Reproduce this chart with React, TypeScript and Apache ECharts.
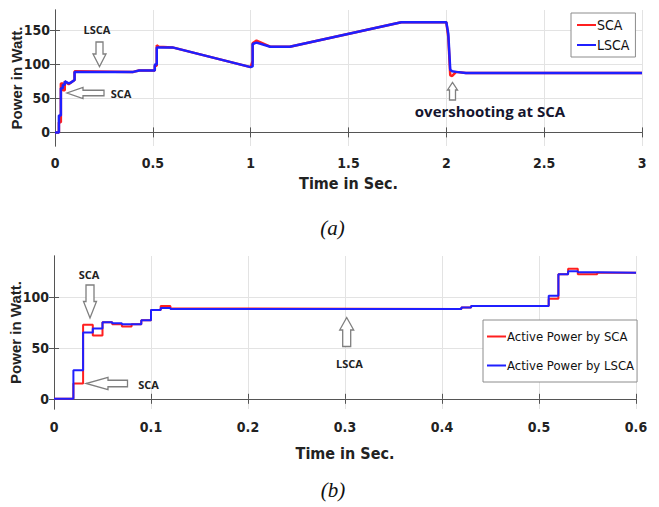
import React, { useEffect, useRef } from "react";
import * as echarts from "echarts";

// ---------- Data ----------
// (a) 0 – 3 s
const TOP_TIME = [0, 0.02, 0.02, 0.03, 0.03, 0.04, 0.04, 0.05, 0.05, 0.07, 0.08, 0.1, 0.1, 0.4, 0.43, 0.51, 0.51, 0.52, 0.52, 0.53, 0.6, 1.0, 1.01, 1.01, 1.03, 1.1, 1.2, 1.77, 2.0, 2.01, 2.02, 2.03, 2.05, 2.1, 3.0];
const TOP_SCA = [0, 0, 15, 15, 72, 72, 62, 62, 75, 71, 73, 77, 90, 89, 91, 91, 98, 98, 128, 126, 125, 96, 105, 131, 135, 126, 126, 162, 162, 140, 84, 83, 89, 87.5, 87.5];
const TOP_LSCA = [0, 0, 25, 25, 65, 65, 70, 70, 75, 72, 73, 77, 89, 89, 91, 91, 100, 100, 125, 125, 125, 96, 97, 130, 132, 126, 126, 162, 162, 145, 92, 90, 89, 87.5, 87.5];

// (b) 0 – 0.6 s (sample-and-hold values, each held until next time)
const BOT_TIME = [0, 0.02, 0.03, 0.04, 0.05, 0.06, 0.07, 0.08, 0.09, 0.1, 0.11, 0.12, 0.16, 0.42, 0.43, 0.51, 0.52, 0.53, 0.54, 0.56, 0.6];
const BOT_SCA = [0, 15, 72.5, 62, 75, 73, 71, 73, 77, 87, 91, 88.5, 88, 89.5, 91, 98, 122, 127.5, 122, 123.5, 123.5];
const BOT_LSCA = [0, 28, 65, 69, 75, 74, 73, 73, 77, 87, 89, 88, 88, 89.5, 91, 101, 122, 125, 124, 123.5, 123.5];

const TOP_Y_TICKS = [0, 50, 100, 150];
const BOT_Y_TICKS = [0, 50, 100];

const zip = (t: number[], v: number[]) => t.map((x, i) => [x, v[i]]);

const NARROW = "'Liberation Sans Narrow', 'DejaVu Sans Condensed', 'Roboto Condensed', 'Arial Narrow', 'Liberation Sans', Arial, sans-serif";
const SANS = "'Liberation Sans', Arial, sans-serif";
const CALIBRI = "'Open Sans', 'Noto Sans', sans-serif";
const RED = "#ff1f1f";
const BLUE = "#1f1fff";
const ARROW_STROKE = "#7f7f7f";

function downArrow(cx: number, top: number, headStart: number, tip: number, sw: number, hw: number) {
  return [[cx - sw / 2, top], [cx + sw / 2, top], [cx + sw / 2, headStart], [cx + hw / 2, headStart], [cx, tip], [cx - hw / 2, headStart], [cx - sw / 2, headStart]];
}
function upArrow(cx: number, bottom: number, headEnd: number, tip: number, sw: number, hw: number) {
  return [[cx - sw / 2, bottom], [cx + sw / 2, bottom], [cx + sw / 2, headEnd], [cx + hw / 2, headEnd], [cx, tip], [cx - hw / 2, headEnd], [cx - sw / 2, headEnd]];
}
function leftArrow(cy: number, tip: number, headEnd: number, tail: number, sh: number, hh: number) {
  return [[tail, cy - sh / 2], [tail, cy + sh / 2], [headEnd, cy + sh / 2], [headEnd, cy + hh / 2], [tip, cy], [headEnd, cy - hh / 2], [headEnd, cy - sh / 2]];
}

const arrow = (points: number[][]) => ({
  type: "polygon",
  shape: { points },
  style: { fill: "#fff", stroke: ARROW_STROKE, lineWidth: 1.3 },
  z: 100,
});
const label = (text: string, x: number, y: number, size = 11, color = "#222") => ({
  type: "text",
  x,
  y,
  style: { text, fill: color, font: `bold ${size}px ${CALIBRI}`, textAlign: "center", textVerticalAlign: "middle" },
  z: 100,
});

export default function App() {
  const ref = useRef<HTMLDivElement>(null);

  useEffect(() => {
    document.body.style.margin = "0";
    const chart = echarts.init(ref.current!, null, { renderer: "svg" });

    const tickLabel = { fontFamily: NARROW, fontWeight: "bold", fontSize: 14, color: "#222" };
    const axisLine = { show: true, lineStyle: { color: "#555", width: 1 } };
    const axisTick = (customValues?: number[]) => ({ show: true, inside: true, length: 5, lineStyle: { color: "#555" }, ...(customValues ? { customValues } : {}) });
    const splitLine = { show: true, lineStyle: { color: "#e3e3e3", width: 1 } };
    const nameStyle = { fontFamily: NARROW, fontWeight: "bold", fontSize: 16, color: "#222" };
    const yNameStyle = { fontFamily: SANS, fontWeight: "bold", fontSize: 15, color: "#222" };

    const option: any = {
      animation: false,
      backgroundColor: "#fff",
      grid: [
        { left: 55, top: 10, width: 587, height: 136, containLabel: false, outerBoundsMode: "none" },
        { left: 54, top: 256, width: 582, height: 153, containLabel: false, outerBoundsMode: "none" },
      ],
      xAxis: [
        {
          type: "value", gridIndex: 0, min: 0, max: 3, interval: 0.5,
          name: "Time in Sec.", nameLocation: "middle", nameGap: 29,
          nameTextStyle: nameStyle,
          axisLine, axisTick: axisTick(), splitLine,
          axisLabel: { ...tickLabel, margin: 10 },
        },
        {
          type: "value", gridIndex: 1, min: 0, max: 0.6, interval: 0.1,
          name: "Time in Sec.", nameLocation: "middle", nameGap: 36,
          nameTextStyle: nameStyle,
          axisLine, axisTick: axisTick(), splitLine,
          axisLabel: { ...tickLabel, margin: 11 },
        },
        { type: "value", gridIndex: 0, position: "top", min: 0, max: 3, interval: 0.5, axisLine, axisTick: axisTick(), axisLabel: { show: false }, splitLine: { show: false } },
        { type: "value", gridIndex: 1, position: "top", min: 0, max: 0.6, interval: 0.1, axisLine, axisTick: axisTick(), axisLabel: { show: false }, splitLine: { show: false } },
      ],
      yAxis: [
        {
          type: "value", gridIndex: 0, min: -20, max: 180,
          name: "Power in Watt.", nameLocation: "middle", nameGap: 31, nameMoveOverlap: false,
          nameTextStyle: yNameStyle,
          axisLine, axisTick: axisTick(TOP_Y_TICKS), splitLine,
          axisLabel: { ...tickLabel, margin: 5, customValues: TOP_Y_TICKS },
        },
        {
          type: "value", gridIndex: 1, min: -10, max: 140,
          name: "Power in Watt.", nameLocation: "middle", nameGap: 31, nameMoveOverlap: false,
          nameTextStyle: yNameStyle,
          axisLine, axisTick: axisTick(BOT_Y_TICKS), splitLine,
          axisLabel: { ...tickLabel, margin: 5, customValues: BOT_Y_TICKS },
        },
        { type: "value", gridIndex: 0, position: "right", min: -20, max: 180, axisLine, axisTick: axisTick(TOP_Y_TICKS), axisLabel: { show: false, customValues: TOP_Y_TICKS }, splitLine: { show: false } },
        { type: "value", gridIndex: 1, position: "right", min: -10, max: 140, axisLine, axisTick: axisTick(BOT_Y_TICKS), axisLabel: { show: false, customValues: BOT_Y_TICKS }, splitLine: { show: false } },
      ],
      legend: [
        {
          data: ["SCA", "LSCA"], orient: "vertical", left: 571, top: 13,
          backgroundColor: "#fff", borderColor: "#8c8c8c", borderWidth: 1,
          padding: [5, 6, 5, 6], itemGap: 6, itemWidth: 19, itemHeight: 2, icon: "rect",
          textStyle: { fontFamily: NARROW, fontSize: 14, color: "#111", padding: [0, 0, 0, -4] },
          selectedMode: false,
        },
        {
          data: ["Active Power by SCA", "Active Power by LSCA"], orient: "vertical", left: 483, top: 320,
          backgroundColor: "#fff", borderColor: "#8c8c8c", borderWidth: 1,
          padding: [10, 3, 10, 4], itemGap: 16, itemWidth: 19, itemHeight: 2, icon: "rect",
          textStyle: { fontFamily: NARROW, fontSize: 13, color: "#111", padding: [0, 0, 0, -4] },
          selectedMode: false,
        },
      ],
      series: [
        { name: "SCA", type: "line", xAxisIndex: 0, yAxisIndex: 0, data: zip(TOP_TIME, TOP_SCA), showSymbol: false, lineStyle: { color: RED, width: 2.5 }, itemStyle: { color: RED }, z: 2 },
        { name: "LSCA", type: "line", xAxisIndex: 0, yAxisIndex: 0, data: zip(TOP_TIME, TOP_LSCA), showSymbol: false, lineStyle: { color: BLUE, width: 2.5 }, itemStyle: { color: BLUE }, z: 3 },
        { name: "Active Power by SCA", type: "line", step: "end", xAxisIndex: 1, yAxisIndex: 1, data: zip(BOT_TIME, BOT_SCA), showSymbol: false, lineStyle: { color: RED, width: 2 }, itemStyle: { color: RED }, z: 2 },
        { name: "Active Power by LSCA", type: "line", step: "end", xAxisIndex: 1, yAxisIndex: 1, data: zip(BOT_TIME, BOT_LSCA), showSymbol: false, lineStyle: { color: BLUE, width: 2 }, itemStyle: { color: BLUE }, z: 3 },
      ],
      graphic: [
        // (a) annotations
        label("LSCA", 97, 29),
        arrow(downArrow(99.5, 42, 54, 66.5, 7, 13)),
        label("SCA", 121, 93),
        arrow(leftArrow(93, 67, 83, 104, 5.5, 11)),
        arrow(upArrow(452.5, 100, 90, 82.5, 6, 10)),
        label("overshooting at SCA", 490, 111, 15, "#15152e"),
        // (b) annotations
        label("SCA", 89, 274),
        arrow(downArrow(90, 285, 301.5, 318, 8, 13)),
        label("SCA", 148.5, 384),
        arrow(leftArrow(383.5, 86, 108, 127.5, 6.5, 12.5)),
        label("LSCA", 349.5, 363),
        arrow(upArrow(346.7, 346.5, 330, 317.5, 8, 14)),
        // captions
        { type: "text", x: 332.5, y: 228, style: { text: "(a)", font: "italic 21px 'Liberation Serif', 'Times New Roman', serif", fill: "#111", textAlign: "center", textVerticalAlign: "middle" } },
        { type: "text", x: 333, y: 490, style: { text: "(b)", font: "italic 21px 'Liberation Serif', 'Times New Roman', serif", fill: "#111", textAlign: "center", textVerticalAlign: "middle" } },
      ],
    };

    chart.setOption(option);
    return () => chart.dispose();
  }, []);

  return <div ref={ref} style={{ width: 659, height: 507 }} />;
}
